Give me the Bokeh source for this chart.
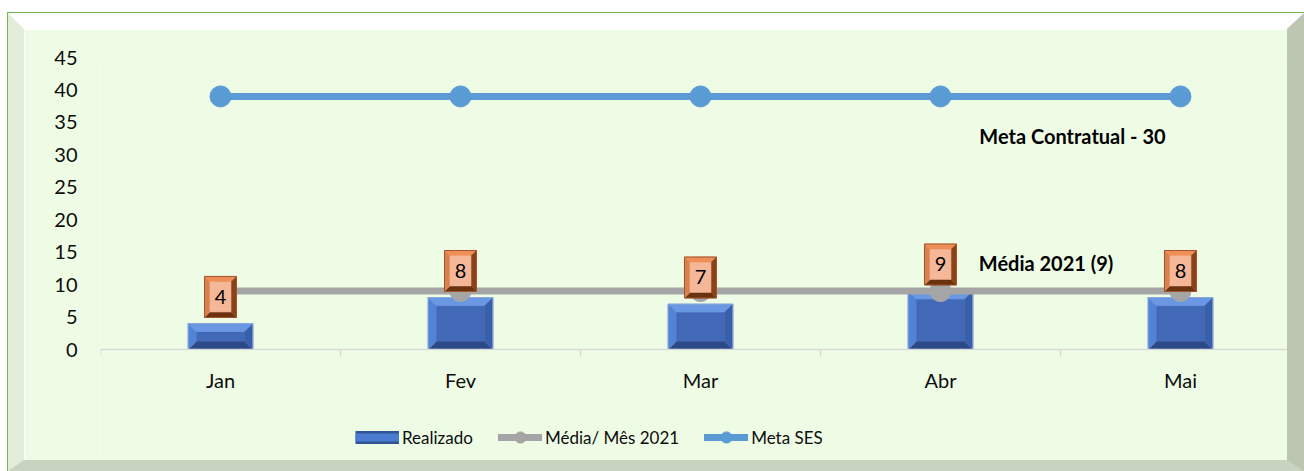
import math
from bokeh.plotting import figure
from bokeh.models import Range1d, FixedTicker, Legend, LegendItem, CustomJSTickFormatter
from bokeh.core.properties import value
from bokeh.embed import file_html
from bokeh.resources import INLINE

# ---- data ----
months = ["Jan", "Fev", "Mar", "Abr", "Mai"]
realizado = [4, 8, 7, 9, 8]
media_mes = [9, 9, 9, 9, 9]
meta_ses = [39, 39, 39, 39, 39]
y_ticks = [0, 5, 10, 15, 20, 25, 30, 35, 40, 45]
legend_labels = ["Realizado", "Média/ Mês 2021", "Meta SES"]
note_meta = "Meta Contratual - 30"
note_media = "Média 2021 (9)"

FONT = "Lato"
BG = "#EFFCE5"
TXT = "#0D0D0D"
FS = "20px"

xc = [i + 0.5 for i in range(len(months))]

# frame spans from the top margin down to the bottom of the visible canvas;
# the x axis is pinned at y=0 so the legend can sit inside the frame below it
p = figure(width=1263, height=431,
           x_range=Range1d(0, 4.946), y_range=Range1d(-17.106, 45),
           output_backend="svg", toolbar_location=None,
           min_border_left=76, min_border_right=33,
           min_border_top=28, min_border_bottom=27,
           background_fill_color=BG, border_fill_color=BG,
           outline_line_color=None)
p.styles = {
    "box-sizing": "content-box",
    "margin-top": "13px",
    "margin-left": "8px",
    "outline": "1px solid #77B553",
    "border-top": "16px solid #FFFFFF",
    "border-left": "16px solid #E3EEDA",
    "border-right": "17px solid #BCC6B1",
    "border-bottom": "11px solid #C8D4C0",
}
p.xgrid.visible = False
p.ygrid.visible = False

# y axis
p.yaxis.ticker = FixedTicker(ticks=y_ticks)
p.yaxis.axis_line_color = None
p.yaxis.major_tick_line_color = None
p.yaxis.minor_tick_line_color = None
p.yaxis.major_tick_out = 0
p.yaxis.major_label_standoff = 23
p.yaxis.major_label_text_font = FONT
p.yaxis.major_label_text_font_size = FS
p.yaxis.major_label_text_color = TXT

# x axis
p.xaxis.fixed_location = 0
p.xaxis.ticker = FixedTicker(ticks=xc, minor_ticks=list(range(len(months) + 1)))
p.xaxis.formatter = CustomJSTickFormatter(args=dict(labels=months),
                                          code="return labels[Math.floor(tick)] || '';")
p.xaxis.axis_line_color = "#D9D9D9"
p.xaxis.axis_line_width = 1.5
p.xaxis.major_tick_line_color = None
p.xaxis.major_tick_out = 0
p.xaxis.major_tick_in = 0
p.xaxis.minor_tick_line_color = "#D9D9D9"
p.xaxis.minor_tick_line_width = 1.5
p.xaxis.minor_tick_out = 7
p.xaxis.minor_tick_in = 0
p.xaxis.major_label_standoff = 11
p.xaxis.major_label_text_font = FONT
p.xaxis.major_label_text_font_size = FS
p.xaxis.major_label_text_color = TXT


def bevel_parts(cx, y0, y1, hw, bx, by):
    parts = {k: ([], []) for k in ("face", "top", "bottom", "left", "right", "edge")}
    for c, a, b in zip(cx, y0, y1):
        x0, x1 = c - hw, c + hw
        parts["face"][0].append([x0 + bx, x1 - bx, x1 - bx, x0 + bx])
        parts["face"][1].append([a + by, a + by, b - by, b - by])
        parts["top"][0].append([x0, x1, x1 - bx, x0 + bx])
        parts["top"][1].append([b, b, b - by, b - by])
        parts["bottom"][0].append([x0, x1, x1 - bx, x0 + bx])
        parts["bottom"][1].append([a, a, a + by, a + by])
        parts["left"][0].append([x0, x0 + bx, x0 + bx, x0])
        parts["left"][1].append([a, a + by, b - by, b])
        parts["right"][0].append([x1, x1 - bx, x1 - bx, x1])
        parts["right"][1].append([a, a + by, b - by, b])
        parts["edge"][0].append([x0, x1, x1, x0])
        parts["edge"][1].append([a, a, b, b])
    return parts


def draw_bevel(parts, colors, edge_color):
    for k in ("face", "top", "bottom", "left", "right"):
        p.patches(parts[k][0], parts[k][1], fill_color=colors[k], line_color=colors[k], line_width=0.5)
    p.patches(parts["edge"][0], parts["edge"][1], fill_color=None, line_color=edge_color, line_width=1)


# bars (Realizado)
bar_hw = 0.135
bar_parts = bevel_parts(xc, [0] * len(realizado), realizado, bar_hw, 8 / 240, 8 / 6.489)
draw_bevel(bar_parts, {"face": "#4169B8", "top": "#6A98E2", "left": "#5283D4",
                       "right": "#3A5FAA", "bottom": "#2C4A8A"}, "#8AA7DC")

# Média line
media_line = p.line(xc, media_mes, line_color="#A5A5A5", line_width=7, line_cap="round")
media_pts = p.scatter(xc, media_mes, size=21, marker="circle", fill_color="#A5A5A5", line_color="#A5A5A5")

# Meta SES line
meta_line = p.line(xc, meta_ses, line_color="#5B9BD5", line_width=7, line_cap="round")
meta_pts = p.scatter(xc, meta_ses, size=21, marker="circle", fill_color="#5B9BD5", line_color="#5B9BD5")

# data label boxes
lab_off = 4.1
lab_y = [v + lab_off for v in realizado]
lab_hw = 16 / 240
lab_hh = 20.5 / 6.489
lab_parts = bevel_parts(xc, [y - lab_hh for y in lab_y], [y + lab_hh for y in lab_y],
                        lab_hw, 5 / 240, 5 / 6.489)
draw_bevel(lab_parts, {"face": "#F4B797", "top": "#EE8F58", "left": "#D9824E",
                       "right": "#8A4318", "bottom": "#6B3210"}, "#A0522D")
p.text(xc, lab_y, text=[str(v) for v in realizado], text_font=value(FONT),
       text_font_size=FS, text_color="#000000", text_align="center", text_baseline="middle")

# annotations
p.text([4.05], [32.9], text=[note_meta], text_font=value(FONT), text_font_style="bold",
       text_font_size="20px", text_color="#000000", text_align="center", text_baseline="middle")
p.text([3.94], [13.4], text=[note_media], text_font=value(FONT), text_font_style="bold",
       text_font_size="20px", text_color="#000000", text_align="center", text_baseline="middle")

# legend
nan = float("nan")
leg_bar_dark = p.line([nan], [nan], line_color="#2F5597", line_width=13, line_cap="butt")
leg_bar_light = p.line([nan], [nan], line_color="#4A7BD0", line_width=8, line_cap="butt")
legend = Legend(items=[
    LegendItem(label=legend_labels[0], renderers=[leg_bar_dark, leg_bar_light]),
    LegendItem(label=legend_labels[1], renderers=[media_line, media_pts]),
    LegendItem(label=legend_labels[2], renderers=[meta_line, meta_pts]),
], orientation="horizontal", location=(255, 9), glyph_width=44, glyph_height=28,
    label_standoff=3, spacing=25, padding=0, margin=0,
    background_fill_alpha=0, border_line_color=None,
    label_text_font=FONT, label_text_font_size="17px", label_text_color=TXT)
p.add_layout(legend)

open("out.html", "w").write(file_html(p, INLINE))
